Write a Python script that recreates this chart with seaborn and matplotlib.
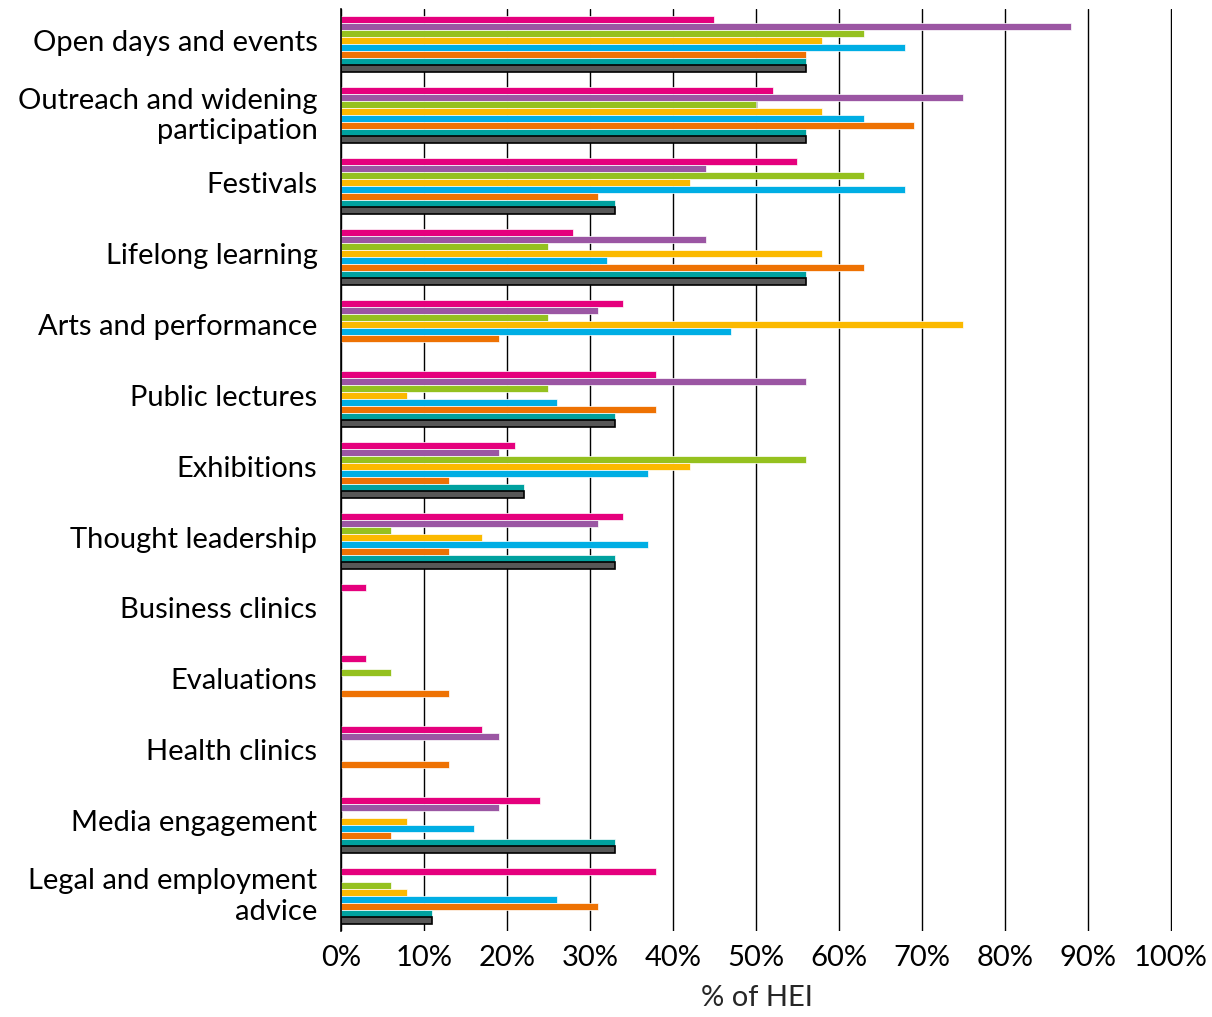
import seaborn as sns
import matplotlib.pyplot as plt
import matplotlib.transforms as mtransforms
import pandas as pd
import numpy as np
from matplotlib.ticker import PercentFormatter

nan = np.nan

categories = ['Open days and events', 'Outreach and widening\nparticipation', 'Festivals',
              'Lifelong learning', 'Arts and performance', 'Public lectures', 'Exhibitions',
              'Thought leadership', 'Business clinics', 'Evaluations', 'Health clinics',
              'Media engagement', 'Legal and employment\nadvice']

series = ['S1', 'S2', 'S3', 'S4', 'S5', 'S6', 'S7', 'S8']
colors = ['#E5007D', '#9B56A3', '#95C11F', '#FBB900', '#00AEE4', '#EE7203', '#00A19F', '#575757']

s1 = [45, 52, 55, 28, 34, 38, 21, 34, 3, 3, 17, 24, 38]
s2 = [88, 75, 44, 44, 31, 56, 19, 31, nan, nan, 19, 19, nan]
s3 = [63, 50, 63, 25, 25, 25, 56, 6, nan, 6, nan, nan, 6]
s4 = [58, 58, 42, 58, 75, 8, 42, 17, nan, nan, nan, 8, 8]
s5 = [68, 63, 68, 32, 47, 26, 37, 37, nan, nan, nan, 16, 26]
s6 = [56, 69, 31, 63, 19, 38, 13, 13, nan, 13, 13, 6, 31]
s7 = [56, 56, 33, 56, nan, 33, 22, 33, nan, nan, nan, 33, 11]
s8 = [56, 56, 33, 56, nan, 33, 22, 33, nan, nan, nan, 33, 11]

values = [s1, s2, s3, s4, s5, s6, s7, s8]
rows = []
for name, vals in zip(series, values):
    for cat, v in zip(categories, vals):
        rows.append({'category': cat, 'series': name, 'pct': v})
df = pd.DataFrame(rows)

sns.set_style('white')
plt.rcParams['font.family'] = ['Lato', 'DejaVu Sans']

fig = plt.figure(figsize=(12.12, 10.17), dpi=100)
ax = fig.add_axes([0.2814, 0.0841, 0.6856, 0.9075])

sns.barplot(df.dropna(), y='category', x='pct', hue='series', order=categories,
            hue_order=series, palette=colors, saturation=1, orient='h', width=0.8,
            edgecolor='white', linewidth=0.5, legend=False, ax=ax)

# dark bars get a black outline
for bar in ax.containers[-1]:
    bar.set_edgecolor('black')
    bar.set_linewidth(1.2)

ax.set_xlim(0, 100.15)
ax.set_ylim(len(categories) - 0.5, -0.5)
ax.set_xticks(range(0, 101, 10))
ax.xaxis.set_major_formatter(PercentFormatter(decimals=0))
ax.grid(axis='x', color='black', linewidth=1)
ax.set_axisbelow(True)
for side in ['top', 'right', 'bottom']:
    ax.spines[side].set_visible(False)
ax.spines['left'].set_color('black')
ax.spines['left'].set_linewidth(1.2)
ax.tick_params(axis='both', length=0, labelsize=21, colors='black')
ax.tick_params(axis='y', pad=17)
ax.tick_params(axis='x', pad=10)
shift = mtransforms.ScaledTranslation(0, 4 / 100, fig.dpi_scale_trans)
for lbl in ax.get_yticklabels():
    lbl.set_linespacing(1.2)
    lbl.set_transform(lbl.get_transform() + shift)
ax.set_ylabel('')
ax.set_xlabel('% of HEI', fontsize=21, labelpad=10)

fig.savefig('out.png', dpi=100)
